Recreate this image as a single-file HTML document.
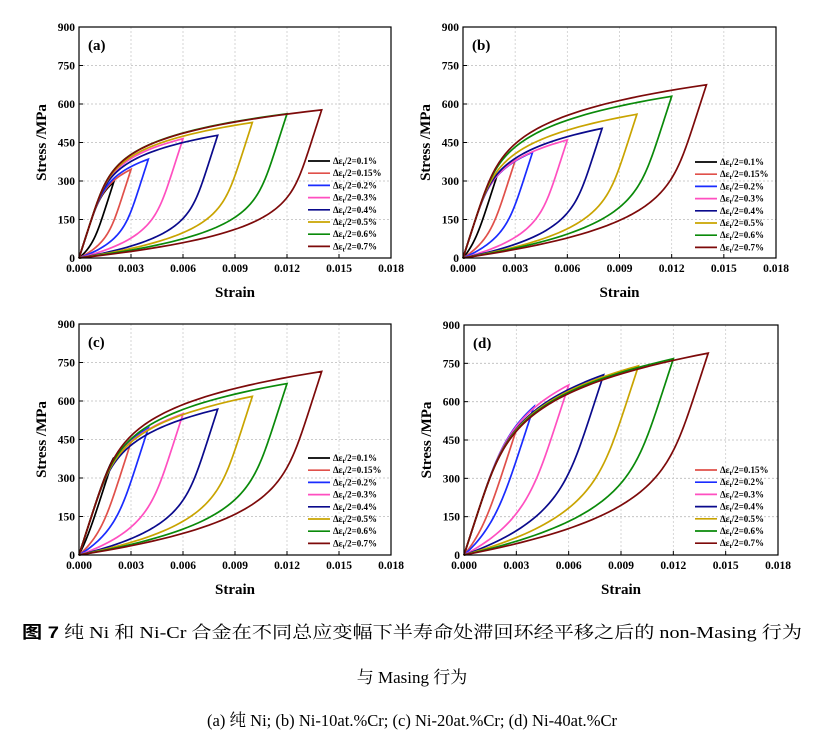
<!DOCTYPE html>
<html><head><meta charset="utf-8">
<style>
body{margin:0;background:#fff;}
svg{display:block;}
.tk{font-family:"Liberation Serif",serif;font-weight:bold;font-size:11.5px;fill:#000;}
.ax{font-family:"Liberation Serif",serif;font-weight:bold;font-size:15px;fill:#000;}
.lg{font-family:"Liberation Serif",serif;font-weight:bold;font-size:9px;fill:#000;}
.cap{font-family:"Liberation Serif","Noto Serif CJK SC",serif;font-size:17px;fill:#000;}
</style></head>
<body>
<svg id="fig" width="825" height="748" viewBox="0 0 825 748">
<text class="cap" x="22" y="638" textLength="780" lengthAdjust="spacingAndGlyphs"><tspan font-weight="bold" font-family="Liberation Sans,Noto Sans CJK SC,sans-serif">图 7</tspan> 纯 Ni 和 Ni-Cr 合金在不同总应变幅下半寿命处滞回环经平移之后的 non-Masing 行为</text>
<text class="cap" x="412" y="683" text-anchor="middle">与 Masing 行为</text>
<text class="cap" x="412" y="726" text-anchor="middle" font-size="15" textLength="410" lengthAdjust="spacingAndGlyphs">(a)  纯 Ni; (b) Ni-10at.%Cr; (c) Ni-20at.%Cr; (d) Ni-40at.%Cr</text>
</svg>
<script>
const labels = ["0.1%","0.15%","0.2%","0.3%","0.4%","0.5%","0.6%","0.7%"];
const strainRange = [0.002,0.003,0.004,0.006,0.008,0.010,0.012,0.014];
const colors = ["#000000","#e0504a","#1a2cff","#ff4fc0","#0a0a8c","#c9a400","#0a8a0a","#7d0a0a"];
const peakA = [295,345,385,465,478,528,562,577];
const peakB = [330,380,412,460,505,560,630,675];
const peakC = [380,440,495,550,568,618,668,715];
const peakD = [null,490,580,665,705,740,768,790];
const xTicks = [0,0.003,0.006,0.009,0.012,0.015,0.018];
const xTickLabels = ["0.000","0.003","0.006","0.009","0.012","0.015","0.018"];
const yTicks = [0,150,300,450,600,750,900];

const panels = [
 {id:"a", x0:79, x1:391, y0:27, y1:258, peaks:peakA, n:6.5, lx:308, ly:161},
 {id:"b", x0:463, x1:776, y0:27, y1:258, peaks:peakB, n:6, lx:695, ly:162},
 {id:"c", x0:79, x1:391, y0:324, y1:555, peaks:peakC, n:6, lx:308, ly:458},
 {id:"d", x0:464, x1:778, y0:325, y1:555, peaks:peakD, n:5.5, lx:695, ly:470}
];
const NS="http://www.w3.org/2000/svg";
const svg=document.getElementById('fig');
function mk(tag,attrs,parent){const e=document.createElementNS(NS,tag);for(const k in attrs)e.setAttribute(k,attrs[k]);(parent||svg).appendChild(e);return e;}
const E=210000;
panels.forEach(p=>{
  const g=mk('g',{});
  
  
  const sx=v=>p.x0+(v/0.018)*(p.x1-p.x0);
  const sy=v=>p.y1-(v/900)*(p.y1-p.y0);
  yTicks.slice(1,-1).forEach(t=>{mk('line',{x1:p.x0,x2:p.x1,y1:sy(t),y2:sy(t),stroke:'#bbb','stroke-width':0.8,'stroke-dasharray':'2,2'},g);});
  xTicks.slice(1,-1).forEach(t=>{mk('line',{x1:sx(t),x2:sx(t),y1:p.y0,y2:p.y1,stroke:'#ccc','stroke-width':0.8,'stroke-dasharray':'2,2'},g);});
  p.peaks.forEach((sp,i)=>{
    if(sp==null)return;
    const d=strainRange[i], ep=Math.max(d-sp/E,0.0002);
    const up=[],lo=[];
    for(let k=0;k<=80;k++){const s=sp*k/80;const e=s/E+ep*Math.pow(s/sp,p.n);up.push([e,s]);lo.push([d-e,sp-s]);}
    const pts=up.concat(lo.slice(1));
    const path=mk('path',{d:'M'+pts.map(q=>sx(q[0]).toFixed(2)+','+sy(q[1]).toFixed(2)).join('L'),fill:'none',stroke:colors[i],'stroke-width':1.7},g);
    
    
  });
  mk('rect',{x:p.x0,y:p.y0,width:p.x1-p.x0,height:p.y1-p.y0,fill:'none',stroke:'#000','stroke-width':1.2},g);
  xTicks.forEach((t,i)=>{
    mk('line',{x1:sx(t),x2:sx(t),y1:p.y1,y2:p.y1-4,stroke:'#000'},g);
    const tx=mk('text',{x:sx(t),y:p.y1+14,'text-anchor':'middle',class:'tk'},g);tx.textContent=xTickLabels[i];
    
    
  });
  yTicks.forEach(t=>{
    mk('line',{x1:p.x0,x2:p.x0+4,y1:sy(t),y2:sy(t),stroke:'#000'},g);
    const tx=mk('text',{x:p.x0-4,y:sy(t)+4,'text-anchor':'end',class:'tk'},g);tx.textContent=t;
    
    
  });
  const xl=mk('text',{x:(p.x0+p.x1)/2,y:p.y1+39,'text-anchor':'middle',class:'ax'},g);xl.textContent='Strain';
  
  
  const cy=(p.y0+p.y1)/2;
  const yl=mk('text',{x:p.x0-33,y:cy,'text-anchor':'middle',class:'ax',transform:'rotate(-90 '+(p.x0-33)+' '+cy+')'},g);yl.textContent='Stress /MPa';
  
  
  const pl=mk('text',{x:p.x0+9,y:p.y0+23,class:'ax','font-size':21},g);pl.textContent='('+p.id+')';
  
  
  let row=0;
  p.peaks.forEach((sp,i)=>{
    if(sp==null)return;
    const y=p.ly+row*12.2;row++;
    mk('line',{x1:p.lx,x2:p.lx+22,y1:y,y2:y,stroke:colors[i],'stroke-width':1.7},g);
    const t=mk('text',{x:p.lx+25,y:y+3,class:'lg'},g);
    t.innerHTML='\u0394\u03b5<tspan font-size="6.5" dy="2">t</tspan><tspan dy="-2">/2='+labels[i]+'</tspan>';
    
    
  });
});
</script>
</body></html>
